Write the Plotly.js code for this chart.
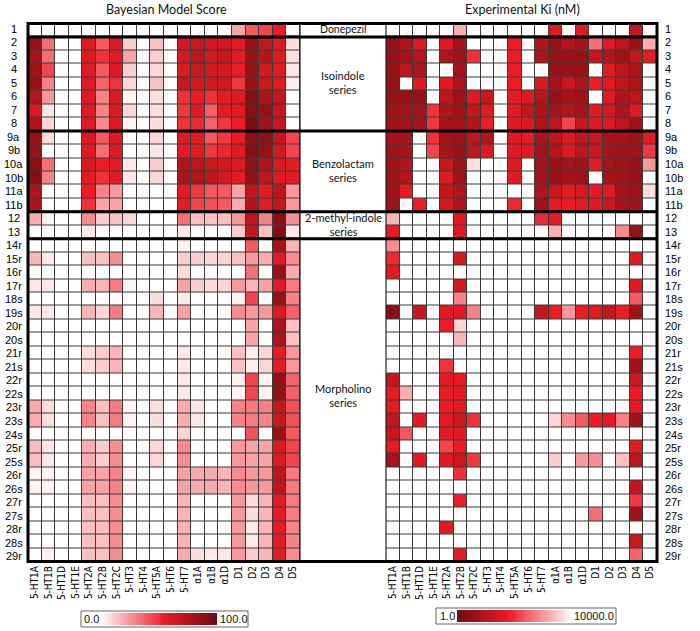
<!DOCTYPE html>
<html><head><meta charset="utf-8">
<script src="https://cdn.plot.ly/plotly-3.0.1.min.js"></script>
<style>html,body{margin:0;padding:0;background:#fff}#chart{width:700px;height:631px}</style>
</head><body><div id="chart"></div>
<script>
const targets = ['5-HT1A','5-HT1B','5-HT1D','5-HT1E','5-HT2A','5-HT2B','5-HT2C','5-HT3','5-HT4','5-HT5A','5-HT6','5-HT7','α1A','α1B','α1D','D1','D2','D3','D4','D5'];
const compounds = ['1','2','3','4','5','6','7','8','9a','9b','10a','10b','11a','11b','12','13','14r','15r','16r','17r','18s','19s','20r','20s','21r','21s','22r','22s','23r','23s','24s','25r','25s','26r','26s','27r','27s','28r','28s','29r'];
const seriesNames = ['Donepezil','Isoindole<br>series','Benzolactam<br>series','2-methyl-indole<br>series','Morpholino<br>series'];
const seriesFirstRow = [0, 1, 8, 14, 16];
const seriesLastRow = [0, 7, 13, 15, 39];
const scoreTicks = ['0.0','100.0'];
const kiTicks = ['1.0','10000.0'];

// Bayesian model score (0-100), one row per compound, columns follow targets
const bayesScores = [
 [0,0,0,0,0,0,0,0,0,0,0,0,0,0,0,22,40,45,55,0],
 [85,35,0,0,60,40,60,12,0,15,0,65,68,65,65,58,85,70,60,8],
 [80,35,0,0,60,50,58,22,0,12,0,65,72,65,68,58,85,75,60,8],
 [82,45,0,0,60,40,60,12,0,10,0,62,68,65,65,56,85,65,60,6],
 [85,30,0,0,60,38,50,10,0,15,0,68,65,65,65,48,85,68,60,4],
 [75,25,0,0,60,30,62,3,0,8,0,50,55,50,58,60,92,78,70,0],
 [62,6,0,0,60,30,60,10,0,8,0,48,60,38,58,58,90,85,68,0],
 [75,10,0,0,60,28,60,3,0,8,0,50,52,38,48,55,95,82,68,0],
 [85,8,0,0,62,40,60,0,0,10,0,60,58,40,48,55,90,88,70,45],
 [85,0,0,0,60,35,60,0,0,6,0,58,58,48,52,60,92,85,65,45],
 [90,35,0,0,62,55,58,6,0,12,0,75,72,68,65,60,88,75,62,58],
 [92,30,0,0,58,50,58,6,0,10,0,78,75,70,65,58,88,72,60,58],
 [78,0,0,0,55,30,25,0,0,0,0,58,48,40,40,22,70,58,72,25],
 [78,0,0,0,50,22,22,0,0,0,0,58,45,42,40,20,75,58,70,25],
 [20,3,0,0,28,12,15,10,0,0,0,35,15,15,15,25,72,30,90,28],
 [0,0,0,0,5,0,0,0,0,0,0,5,0,0,0,12,70,15,92,5],
 [0,0,0,0,0,0,0,0,0,0,0,3,0,0,0,0,40,0,80,18],
 [18,6,0,0,15,15,28,0,0,0,0,12,12,10,10,15,25,20,60,28],
 [0,0,0,0,0,0,0,0,0,0,0,8,0,0,0,0,35,0,85,20],
 [6,6,0,0,20,18,32,3,0,0,0,22,12,8,10,25,18,22,60,32],
 [0,0,0,0,0,0,0,0,0,8,0,5,0,0,0,3,45,0,85,30],
 [6,6,0,0,18,10,32,0,0,18,0,22,0,0,0,28,25,25,62,38],
 [0,0,0,0,0,0,0,0,0,0,0,0,0,0,0,0,22,0,78,15],
 [0,0,0,0,0,0,0,0,0,0,0,0,0,0,0,0,22,0,78,15],
 [0,0,0,0,8,12,18,0,0,0,0,6,0,0,0,15,4,10,58,25],
 [0,0,0,0,8,12,18,0,0,0,0,6,0,0,0,15,4,10,58,25],
 [0,0,0,0,0,0,0,0,0,0,0,5,0,0,0,3,45,3,88,38],
 [0,0,0,0,0,0,0,0,0,0,0,5,0,0,0,3,45,3,88,38],
 [20,8,0,0,30,15,32,3,0,8,0,20,6,0,0,30,32,30,70,42],
 [20,8,0,0,30,15,32,3,0,8,0,20,6,0,0,30,32,30,68,42],
 [0,0,0,0,0,0,0,0,0,0,0,10,0,0,0,0,42,0,85,40],
 [16,6,0,0,20,12,28,0,0,10,0,28,0,0,0,25,22,22,62,45],
 [16,6,0,0,20,12,28,0,0,10,0,28,0,0,0,25,22,22,62,45],
 [3,3,0,0,22,22,30,3,0,0,0,22,20,20,18,28,25,25,72,32],
 [3,3,0,0,22,22,30,3,0,0,0,22,20,20,18,28,25,25,72,32],
 [0,0,0,0,15,15,28,0,0,0,0,18,0,0,0,25,8,18,58,32],
 [0,0,0,0,15,15,28,0,0,0,0,18,0,0,0,25,8,18,58,32],
 [0,0,0,0,15,15,28,0,0,0,0,18,0,0,0,25,5,18,58,30],
 [0,0,0,0,15,15,28,0,0,0,0,18,0,0,0,25,5,18,58,30],
 [0,3,0,0,15,15,28,0,0,0,0,20,8,5,6,25,12,18,58,28]
];

// Experimental Ki in nM (10000 = inactive / not measured)
const W = 10000;
const kiNanomolar = [
 [W,W,W,W,W,1600,W,W,W,W,W,W,40,W,40,W,W,W,16,W],
 [4,10,40,W,40,6,W,W,W,63,W,10,4,10,6,400,40,13,4,1600],
 [4,6,10,W,8,5,100,W,W,63,W,8,4,4,4,16,10,5,16,48],
 [4,13,8,W,W,6,W,W,W,63,W,W,4,4,4,W,40,13,8,W],
 [4,W,40,W,40,8,W,W,W,63,W,33,6,19,8,63,40,13,8,W],
 [4,4,4,W,13,5,40,19,W,48,40,10,4,6,5,W,40,8,13,W],
 [5,6,6,100,8,5,16,40,W,48,16,8,6,8,6,40,25,8,40,W],
 [5,6,6,120,6,6,10,63,W,40,33,8,13,160,16,40,33,13,5,W],
 [6,6,W,100,6,5,13,8,W,40,48,8,16,33,16,19,6,6,5,48],
 [5,6,W,160,6,4,13,33,W,40,40,6,10,33,13,19,6,5,5,120],
 [5,10,W,W,16,5,4800,W,W,40,W,6,4,6,5,48,6,5,4,1000],
 [5,10,W,W,40,5,W,W,W,40,W,6,4,6,5,W,6,5,4,W],
 [5,48,W,W,16,8,W,W,W,W,W,8,19,40,25,48,40,6,5,4800],
 [5,W,63,W,25,8,W,W,W,83,W,5,48,63,48,40,19,6,5,W],
 [1900,W,W,W,W,40,W,W,W,W,W,83,48,W,W,W,W,W,W,W],
 [48,W,W,W,W,40,W,W,W,W,W,W,1600,W,W,W,W,760,4,W],
 [760,W,W,W,W,W,W,W,W,W,W,W,W,W,W,W,W,W,W,W],
 [83,W,W,W,W,25,W,W,W,W,W,W,W,W,W,W,W,W,40,W],
 [40,W,W,W,W,W,W,W,W,W,W,W,W,W,W,W,W,W,W,W],
 [W,W,W,W,W,25,W,W,W,W,W,W,W,W,W,W,W,W,40,W],
 [W,W,W,W,W,630,W,W,W,W,W,W,W,W,W,W,W,W,250,W],
 [2.5,W,19,W,40,40,630,W,W,W,W,19,63,1000,63,40,16,63,5,W],
 [W,W,W,W,63,4000,W,W,W,W,W,W,W,W,W,W,W,W,W,W],
 [W,W,W,W,W,1900,W,W,W,W,W,W,W,W,W,W,W,W,W,W],
 [W,W,W,W,W,W,W,W,W,W,W,W,W,W,W,W,W,W,63,W],
 [W,W,W,W,100,W,W,W,W,W,W,W,W,W,W,W,W,W,5,W],
 [16,W,W,W,48,48,W,W,W,W,W,W,W,W,W,W,W,W,19,W],
 [48,1600,W,W,63,48,W,W,W,W,W,W,W,W,W,W,W,W,63,W],
 [52,W,W,W,63,48,W,W,W,W,W,W,W,W,W,W,W,W,48,W],
 [16,W,40,W,48,19,100,W,W,W,W,W,4000,760,250,63,48,630,5,W],
 [16,250,W,W,48,40,W,W,W,W,W,W,W,W,W,W,W,W,W,W],
 [48,W,W,W,160,63,W,W,W,W,W,W,W,W,W,W,W,W,48,W],
 [6,W,40,W,40,19,120,W,W,W,W,W,3300,W,1000,760,W,2500,13,W],
 [W,W,W,W,W,100,W,W,W,W,W,W,W,W,W,W,W,W,W,W],
 [W,W,W,W,W,W,W,W,W,W,W,W,W,W,W,W,W,W,16,W],
 [W,W,W,W,W,63,W,W,W,W,W,W,W,W,W,W,W,W,120,W],
 [W,W,W,W,W,W,W,W,W,W,W,W,W,W,W,400,W,W,5,W],
 [W,W,W,W,40,W,W,W,W,W,W,W,W,W,W,W,W,W,W,W],
 [W,W,W,W,W,W,W,W,W,W,W,W,W,W,W,W,W,W,19,W],
 [W,W,W,W,W,48,W,W,W,W,W,W,W,W,W,W,W,W,300,W]
];

const PW = 700, PH = 631;
const px = v => v / PW;
const py = v => 1 - v / PH;
const GRID_TOP = 22, GRID_BOTTOM = 563;
const rowH = (GRID_BOTTOM - GRID_TOP) / compounds.length;
const rowY = i => py(GRID_TOP + (i + 0.5) * rowH);   // paper y of a row centre (from row index)

const leftScale = [[0,'#ffffff'],[0.55,'#ed1c24'],[1,'#6a0d10']];
const rightScale = [[0,'#6a0d10'],[0.45,'#ed1c24'],[1,'#ffffff']];

const narrow = 'Liberation Sans Narrow, DejaVu Sans Condensed, Arial, sans-serif';
const sans = 'Liberation Sans, Arial, sans-serif';
const myriad = 'Lato, Open Sans, sans-serif';

const cbCommon = {orientation:'h', lenmode:'pixels', thicknessmode:'pixels', thickness:12,
  outlinewidth:0, showticklabels:false, ticks:'', xpad:0, ypad:0, xanchor:'left', yanchor:'top', title:{text:''}};

const traces = [
 {type:'heatmap', x:targets, y:compounds, z:bayesScores, zmin:0, zmax:100,
  colorscale:leftScale, xgap:1, ygap:1, xaxis:'x', yaxis:'y', hoverinfo:'skip',
  colorbar:Object.assign({}, cbCommon, {x:px(100), y:py(613), len:117})},
 {type:'heatmap', x:targets, y:compounds, z:kiNanomolar.map(r => r.map(v => Math.log10(v))), zmin:0, zmax:4,
  colorscale:rightScale, xgap:1, ygap:1, xaxis:'x2', yaxis:'y', hoverinfo:'skip',
  colorbar:Object.assign({}, cbCommon, {x:px(457), y:py(610), len:115})}
];

const axX = {type:'category', tickangle:-90, tickfont:{family:narrow, size:10, color:'#000'},
  showgrid:false, zeroline:false, showline:false, ticks:'', fixedrange:true, anchor:'y'};

const shapes = [];
const L = px(28), R = px(657);
shapes.push({type:'line', xref:'paper', yref:'y', x0:px(300), x1:px(300), y0:-0.5, y1:39.5, line:{color:'#222', width:1.2}});
shapes.push({type:'line', xref:'paper', yref:'y', x0:px(386), x1:px(386), y0:-0.5, y1:39.5, line:{color:'#222', width:1.2}});
seriesLastRow.slice(0, 4).forEach(r => shapes.push({type:'line', xref:'paper', yref:'y', x0:L, x1:R, y0:r + 0.5, y1:r + 0.5, line:{color:'#000', width:3}}));
shapes.push({type:'rect', xref:'paper', yref:'y', x0:L, x1:R, y0:-0.5, y1:39.5, line:{color:'#000', width:3}});
shapes.push({type:'rect', xref:'paper', yref:'paper', x0:px(81), x1:px(248), y0:py(611), y1:py(627), line:{color:'#666', width:1}});
shapes.push({type:'rect', xref:'paper', yref:'paper', x0:px(436), x1:px(616), y0:py(608), y1:py(624), line:{color:'#666', width:1}});

const annotations = [];
compounds.forEach((c, i) => {
  annotations.push({xref:'paper', yref:'paper', x:px(13.5), y:rowY(i), text:c, showarrow:false, xanchor:'center', yanchor:'middle', font:{family:sans, size:11, color:'#000'}});
  annotations.push({xref:'paper', yref:'paper', x:px(663), y:rowY(i), text:c, showarrow:false, xanchor:'left', yanchor:'middle', font:{family:sans, size:11, color:'#000'}});
});
annotations.push({xref:'paper', yref:'paper', x:px(166), y:py(10), text:'Bayesian Model Score', showarrow:false, xanchor:'center', yanchor:'middle', font:{family:myriad, size:12.5, color:'#111'}});
annotations.push({xref:'paper', yref:'paper', x:px(522), y:py(10), text:'Experimental Ki (nM)', showarrow:false, xanchor:'center', yanchor:'middle', font:{family:myriad, size:12.5, color:'#111'}});
seriesNames.forEach((s, i) => {
  let mid = (seriesFirstRow[i] + seriesLastRow[i]) / 2;
  if (i === 4) mid = 27.1;
  annotations.push({xref:'paper', yref:'paper', x:px(343), y:rowY(mid), text:s, showarrow:false, xanchor:'center', yanchor:'middle', font:{family:myriad, size:i===0?10.5:11, color:'#111'}});
});
annotations.push({xref:'paper', yref:'paper', x:px(91.5), y:py(619), text:scoreTicks[0], showarrow:false, xanchor:'center', yanchor:'middle', font:{family:sans, size:11, color:'#111'}});
annotations.push({xref:'paper', yref:'paper', x:px(234), y:py(619), text:scoreTicks[1], showarrow:false, xanchor:'center', yanchor:'middle', font:{family:sans, size:11, color:'#111'}});
annotations.push({xref:'paper', yref:'paper', x:px(447.5), y:py(616), text:kiTicks[0], showarrow:false, xanchor:'center', yanchor:'middle', font:{family:sans, size:11, color:'#111'}});
annotations.push({xref:'paper', yref:'paper', x:px(594), y:py(616), text:kiTicks[1], showarrow:false, xanchor:'center', yanchor:'middle', font:{family:sans, size:11, color:'#111'}});

const layout = {
  width:PW, height:PH, margin:{l:0,r:0,t:0,b:0},
  paper_bgcolor:'#fff', plot_bgcolor:'#3a3a3a', showlegend:false,
  xaxis:Object.assign({}, axX, {domain:[px(28), px(300)]}),
  xaxis2:Object.assign({}, axX, {domain:[px(386), px(657)]}),
  yaxis:{type:'category', domain:[py(GRID_BOTTOM), py(GRID_TOP)], autorange:'reversed', showticklabels:false,
    showgrid:false, zeroline:false, showline:false, ticks:'', fixedrange:true, anchor:'x'},
  shapes:shapes, annotations:annotations
};

Plotly.newPlot('chart', traces, layout, {displayModeBar:false, staticPlot:true});
</script></body></html>
